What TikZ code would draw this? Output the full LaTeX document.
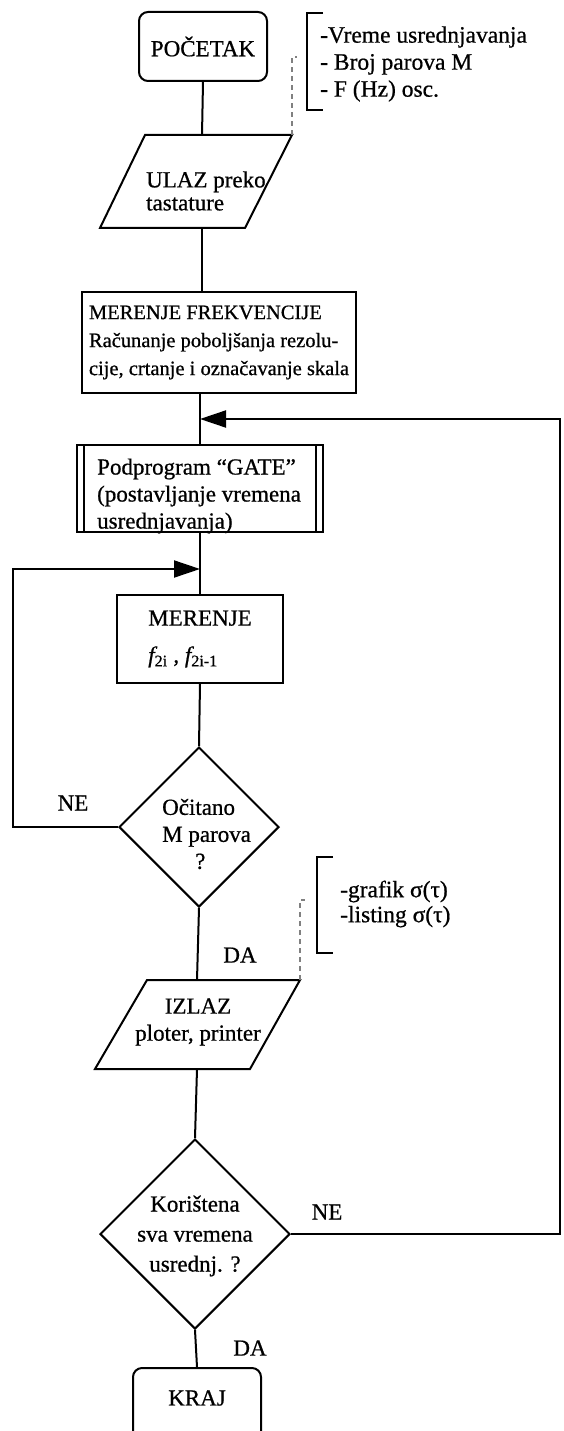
\documentclass[tikz,border=0pt]{standalone}
\usepackage{fontspec}
\setmainfont{Liberation Serif}[FakeBold=0.7]
\usetikzlibrary{arrows.meta,shapes.geometric}
\newcommand{\fsmain}{\fontsize{23}{27}\selectfont}
\newcommand{\fsfrek}{\fontsize{20.5}{28}\selectfont}
\tikzset{
  ln/.style={line width=2pt, black},
  term/.style={draw, line width=2pt, rounded corners=9pt, minimum width=128pt, minimum height=69pt, inner sep=0pt, font=\fsmain},
  proc/.style={draw, line width=2pt, inner sep=0pt},
  txt/.style={inner sep=0pt, font=\fsmain},
  dec/.style={draw, diamond, line width=2pt, inner sep=0pt, aspect=1},
  notedash/.style={draw=gray, line width=1.3pt, dash pattern=on 5pt off 4pt},
  brk/.style={line width=2pt},
  arr/.style={-{Triangle[length=26pt,width=17pt]}}
}
\begin{document}
\begin{tikzpicture}[x=1pt,y=-1pt]
\useasboundingbox (0,0) rectangle (563,1431);
\clip (0,0) rectangle (563,1431);

% --- POCETAK
\node[term] (start) at (203,46.5) {POČETAK};

% --- ULAZ parallelogram
\coordinate (u1) at (100,228);
\coordinate (u2) at (145,135);
\coordinate (u3) at (292,135);
\coordinate (u4) at (245,228);
\draw[ln, line join=miter] (u1) -- (u2) -- (u3) -- (u4) -- cycle;
\node[txt, align=left, anchor=west, font=\fontsize{23}{23}\selectfont] (ulaz) at (146,191) {ULAZ preko\\tastature};
\coordinate (uin) at (202,135);
\coordinate (uout) at (202,228);

% note 1
\coordinate (n1top) at (292,57);
\coordinate (n1hook) at (297,57);
\draw[notedash] (u3) -- (n1top) -- (n1hook);
\coordinate (b1a) at (323,13);
\coordinate (b1b) at (307,13);
\coordinate (b1c) at (307,110);
\coordinate (b1d) at (323,110);
\draw[brk] (b1a) -- (b1b) -- (b1c) -- (b1d);
\node[txt, align=left, anchor=west, font=\fontsize{23.5}{27}\selectfont] (note1) at (320,64) {-Vreme usrednjavanja\\- Broj parova M\\- F (Hz) osc.};

% --- MERENJE FREKVENCIJE
\node[proc, minimum width=274pt, minimum height=101pt, align=left, font=\fsfrek] (frek) at (219,342.5)
  {MERENJE FREKVENCIJE\\Računanje poboljšanja rezolu-\\cije, crtanje i označavanje skala};

% --- GATE subprogram
\node[proc, minimum width=246pt, minimum height=87pt] (gate) at (200,488.5) {};
\draw[ln] ([xshift=8pt]gate.north west) -- ([xshift=8pt]gate.south west);
\draw[ln] ([xshift=-8pt]gate.north east) -- ([xshift=-8pt]gate.south east);
\node[txt, align=left, anchor=west] (gatet) at (97,496) {Podprogram “GATE”\\(postavljanje vremena\\usrednjavanja)};

% --- MERENJE f
\node[proc, minimum width=166pt, minimum height=88pt, align=left, font=\fsmain] (meas) at (200,639)
  {MERENJE\\[10pt]{\itshape f}\textsubscript{2i} , {\itshape f}\textsubscript{2i-1}};

% --- decision 1
\node[dec, minimum width=160pt, minimum height=160pt] (d1) at (199,827) {};
\node[txt, align=left, anchor=west] (d1t) at (162,834) {Očitano\\M parova\\\hspace*{33pt}?};

% --- IZLAZ parallelogram
\coordinate (i1) at (95,1069);
\coordinate (i2) at (147,980);
\coordinate (i3) at (300,980);
\coordinate (i4) at (250,1069);
\draw[ln, line join=miter] (i1) -- (i2) -- (i3) -- (i4) -- cycle;
\node[txt, align=center] (izlaz) at (198,1022) {IZLAZ\\ploter, printer};
\coordinate (iin) at (197,980);
\coordinate (iout) at (197,1069);

% note 2
\coordinate (n2top) at (300,900);
\coordinate (n2hook) at (305,900);
\draw[notedash] (i3) -- (n2top) -- (n2hook);
\coordinate (b2a) at (333,857);
\coordinate (b2b) at (317,857);
\coordinate (b2c) at (317,953);
\coordinate (b2d) at (333,953);
\draw[brk] (b2a) -- (b2b) -- (b2c) -- (b2d);
\node[txt, align=left, anchor=west, font=\fontsize{23.5}{25}\selectfont] (note2) at (340,904) {-grafik σ(τ)\\-listing σ(τ)};

% --- decision 2
\node[dec, minimum width=190pt, minimum height=190pt] (d2) at (195,1234) {};
\node[txt, align=center] (d2t) at (195,1236) {Korištena\\[3pt]sva vremena\\[3pt]usrednj. ?};

% --- KRAJ
\node[term, minimum height=72pt] (kraj) at (197,1404) {};
\node[txt] (krajt) at (197,1398) {KRAJ};

% --- connectors
\coordinate (j1) at (200,419);
\coordinate (j2) at (200,569);
\coordinate (rc) at (560,1234);
\coordinate (lc) at (13,569);

\draw[ln] (start.south) -- (uin);
\draw[ln] (uout) -- (frek.north -| uout);
\draw[ln] (frek.south -| gate.north) -- (gate.north);
\draw[ln] (gate.south) -- (meas.north);
\draw[ln] (meas.south) -- (d1.north);
\draw[ln] (d1.south) -- (iin);
\draw[ln] (iout) -- (d2.north);
\draw[ln] (d2.south) -- (kraj.north);
\draw[ln, arr] (d1.west) -| (lc) -- (j2);
\draw[ln, arr] (d2.east) -- (rc) |- (j1);

% --- labels
\node[txt] (ne1) at (73,803) {NE};
\node[txt] (da1) at (240,955) {DA};
\node[txt] (ne2) at (327,1212) {NE};
\node[txt] (da2) at (250,1348) {DA};
\end{tikzpicture}
\end{document}
